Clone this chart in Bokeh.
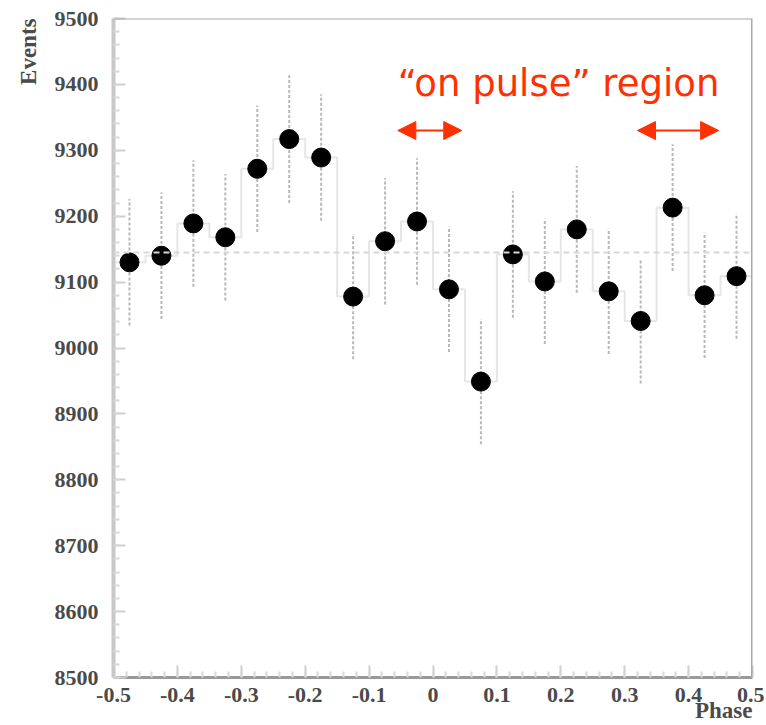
from bokeh.plotting import figure
from bokeh.models import Arrow, NormalHead, Label, Span, FixedTicker, ColumnDataSource, Title
from bokeh.embed import file_html
from bokeh.resources import INLINE

# ---- data ----
phase = [-0.475, -0.425, -0.375, -0.325, -0.275, -0.225, -0.175, -0.125, -0.075, -0.025,
         0.025, 0.075, 0.125, 0.175, 0.225, 0.275, 0.325, 0.375, 0.425, 0.475]
events = [9130, 9140, 9189, 9168, 9272, 9317, 9289, 9078, 9162, 9192,
          9089, 8949, 9142, 9101, 9180, 9086, 9041, 9213, 9080, 9109]
errors = [96, 96, 96, 96, 96, 97, 96, 95, 96, 96,
          95, 95, 96, 95, 96, 95, 95, 96, 95, 95]
bin_width = 0.05
mean_level = 9145
y_ticks = [8500, 8600, 8700, 8800, 8900, 9000, 9100, 9200, 9300, 9400, 9500]
x_ticks = [-0.5, -0.4, -0.3, -0.2, -0.1, 0, 0.1, 0.2, 0.3, 0.4, 0.5]
x_tick_labels = {-0.5: "-0.5", -0.4: "-0.4", -0.3: "-0.3", -0.2: "-0.2", -0.1: "-0.1", 0: "0",
                 0.1: "0.1", 0.2: "0.2", 0.3: "0.3", 0.4: "0.4", 0.5: "0.5"}
arrow_left = (-0.055, 0.045)
arrow_right = (0.32, 0.447)
arrow_level = 9330
annotation_text = "\u201con pulse\u201d region"

RED = "#ff3000"

p = figure(width=764, height=725, output_backend="svg", toolbar_location=None,
           x_range=(-0.5, 0.5), y_range=(8500, 9500),
           min_border_left=113, min_border_right=12, min_border_top=18, min_border_bottom=45)
p.xgrid.visible = False
p.ygrid.visible = False
p.outline_line_color = None
p.background_fill_color = "white"

# histogram steps
edges = [x - bin_width / 2 for x in phase] + [phase[-1] + bin_width / 2]
step_y = events + [events[-1]]
p.step(edges, step_y, mode="after", line_color="#e6e6e6", line_width=2)

# mean line
p.add_layout(Span(location=mean_level, dimension="width", line_color="#d8d8d8",
                  line_dash="6 4", line_width=2))

# error bars
lower = [e - s for e, s in zip(events, errors)]
upper = [e + s for e, s in zip(events, errors)]
src = ColumnDataSource(dict(x=phase, y=events, lo=lower, hi=upper))
p.segment(x0="x", y0="lo", x1="x", y1="hi", source=src, line_color="#b8b8b8",
          line_width=2, line_dash="3 2")
p.scatter("x", "y", source=src, size=19, fill_color="black", line_color="black")

# frame top/right
p.add_layout(Span(location=9500, dimension="width", line_color="#a8a8a8", line_width=2))
p.add_layout(Span(location=0.5, dimension="height", line_color="#a8a8a8", line_width=3))

# axes
for ax in (p.xaxis[0], p.yaxis[0]):
    ax.major_tick_in = 12
    ax.major_tick_out = 0
    ax.minor_tick_in = 6
    ax.minor_tick_out = 0
    ax.major_tick_line_color = "#cfcfcf"
    ax.minor_tick_line_color = "#d8d8d8"
    ax.major_tick_line_width = 2
    ax.minor_tick_line_width = 2
    ax.major_label_text_font = "Liberation Serif"
    ax.major_label_text_font_style = "bold"
    ax.major_label_text_font_size = "22px"
    ax.major_label_text_color = "#4a4a4a"
    ax.major_label_text_line_height = 1.0

p.yaxis[0].ticker = FixedTicker(ticks=y_ticks,
                                minor_ticks=list(range(8500, 9501, 20)))
p.xaxis[0].ticker = FixedTicker(ticks=x_ticks,
                                minor_ticks=[round(-0.5 + 0.02 * i, 2) for i in range(51)])
p.xaxis[0].major_label_overrides = x_tick_labels
p.yaxis[0].axis_line_color = "#c8c8c8"
p.yaxis[0].axis_line_width = 4
p.xaxis[0].axis_line_color = "#999999"
p.xaxis[0].axis_line_width = 3
p.yaxis[0].major_label_standoff = 15
p.xaxis[0].major_label_standoff = 10

# x title at the right end of the axis (trailing no-break spaces balance the centring)
xa = p.xaxis[0]
xa.axis_label = "Phase" + "\u00a0" * 10
xa.axis_label_align = "end"
xa.axis_label_standoff = -7
xa.axis_label_text_font = "Liberation Serif"
xa.axis_label_text_font_style = "bold"
xa.axis_label_text_font_size = "23px"
xa.axis_label_text_color = "#4a4a4a"
xa.axis_label_text_line_height = 1.0

# y title at the top end of the axis
p.add_layout(Title(text="Events", align="right", text_font="Liberation Serif",
                   text_font_style="bold", text_font_size="23px", text_color="#4a4a4a",
                   standoff=21, offset=0), "left")

# annotation
p.add_layout(Label(x=arrow_left[0], y=9402, text=annotation_text,
                   text_align="left", text_baseline="alphabetic",
                   text_font="DejaVu Sans", text_font_size="37px", text_color=RED))
for (xs, xe) in (arrow_left, arrow_right):
    p.add_layout(Arrow(start=NormalHead(size=18, fill_color=RED, line_color=RED),
                       end=NormalHead(size=18, fill_color=RED, line_color=RED),
                       x_start=xs, y_start=arrow_level, x_end=xe, y_end=arrow_level,
                       line_color=RED, line_width=2))

open("out.html", "w").write(file_html(p, INLINE))
